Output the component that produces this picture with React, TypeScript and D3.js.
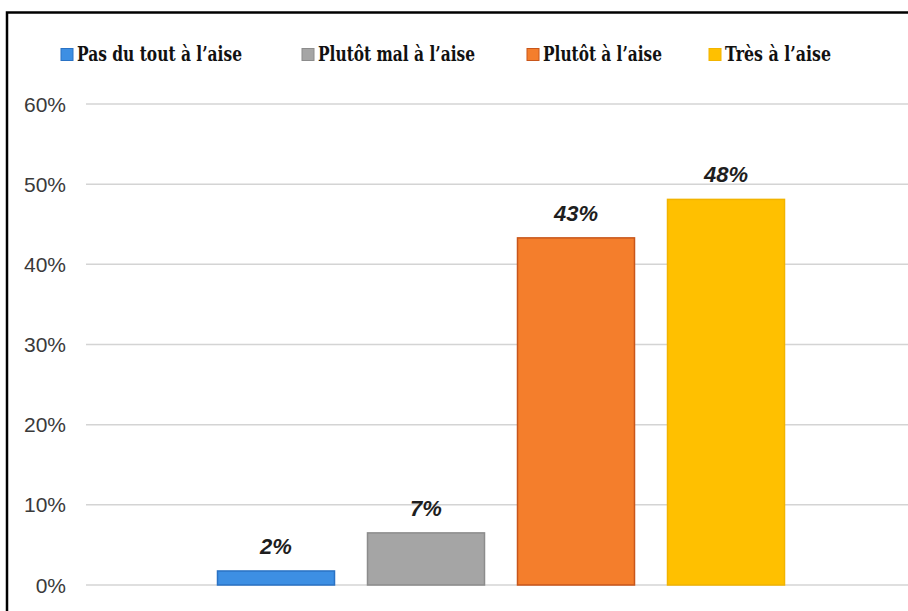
import React, { useRef, useEffect } from 'react';
import * as d3 from 'd3';

const categories = ['Pas du tout à l’aise', 'Plutôt mal à l’aise', 'Plutôt à l’aise', 'Très à l’aise'];
const values = [1.75, 6.5, 43.3, 48.1];
const valueLabels = ['2%', '7%', '43%', '48%'];
const colors = ['#3d8fe3', '#a5a5a5', '#f47e2c', '#ffc000'];
const strokes = ['#2a72c4', '#8c8c8c', '#c8561a', '#f2b400'];
const yTicks = [0, 10, 20, 30, 40, 50, 60];

// legend layout (marker x, text width)
const legendX = [61, 302, 527, 709];
const legendW = [165, 157, 119, 106];

const width = 908;
const height = 611;

const App = () => {
  const ref = useRef(null);

  useEffect(() => {
    const svg = d3.select(ref.current);
    svg.selectAll('*').remove();

    const y = d3.scaleLinear().domain([0, 60]).range([585, 104]);
    const x = d3
      .scaleBand()
      .domain(categories)
      .range([201, 801])
      .paddingInner(0.22)
      .paddingOuter(0.11);

    // frame (right and bottom edges fall outside the picture)
    svg
      .append('rect')
      .attr('x', 7)
      .attr('y', 12.5)
      .attr('width', 960)
      .attr('height', 700)
      .attr('fill', 'none')
      .attr('stroke', '#000')
      .attr('stroke-width', 2.5);

    // grid + y labels
    const grid = svg.append('g');
    grid
      .selectAll('line')
      .data(yTicks)
      .enter()
      .append('line')
      .attr('x1', 86)
      .attr('x2', width)
      .attr('y1', d => y(d))
      .attr('y2', d => y(d))
      .attr('stroke', '#d4d4d4')
      .attr('stroke-width', 1.5);
    grid
      .selectAll('text')
      .data(yTicks)
      .enter()
      .append('text')
      .attr('x', 66)
      .attr('y', d => y(d) + 7.5)
      .attr('text-anchor', 'end')
      .style('font-family', "'Liberation Sans', Arial, sans-serif")
      .style('font-size', '21px')
      .attr('fill', '#3a3a3a')
      .text(d => d + '%');

    // bars
    svg
      .append('g')
      .selectAll('rect')
      .data(values)
      .enter()
      .append('rect')
      .attr('x', (d, i) => x(categories[i]))
      .attr('y', d => y(d))
      .attr('width', x.bandwidth())
      .attr('height', d => y(0) - y(d))
      .attr('fill', (d, i) => colors[i])
      .attr('stroke', (d, i) => strokes[i])
      .attr('stroke-width', 1.5);

    // value labels
    svg
      .append('g')
      .selectAll('text')
      .data(values)
      .enter()
      .append('text')
      .attr('x', (d, i) => x(categories[i]) + x.bandwidth() / 2)
      .attr('y', d => y(d) - 17)
      .attr('text-anchor', 'middle')
      .style('font-family', "'Liberation Sans', Arial, sans-serif")
      .style('font-size', '22px')
      .style('font-weight', 'bold')
      .style('font-style', 'italic')
      .attr('fill', '#1e1e1e')
      .text((d, i) => valueLabels[i]);

    // legend
    const legend = svg
      .append('g')
      .selectAll('g')
      .data(categories)
      .enter()
      .append('g')
      .attr('transform', (d, i) => 'translate(' + legendX[i] + ',0)');
    legend
      .append('rect')
      .attr('x', 0)
      .attr('y', 48.5)
      .attr('width', 12)
      .attr('height', 12)
      .attr('fill', (d, i) => colors[i])
      .attr('stroke', (d, i) => strokes[i])
      .attr('stroke-width', 1);
    legend
      .append('text')
      .attr('x', 16)
      .attr('y', 60.5)
      .attr('textLength', (d, i) => legendW[i])
      .attr('lengthAdjust', 'spacingAndGlyphs')
      .style('font-family', "'DejaVu Serif', serif")
      .style('font-size', '19.5px')
      .style('font-weight', 'bold')
      .attr('fill', '#111')
      .text(d => d);
  }, []);

  return (
    <svg
      ref={ref}
      width={width}
      height={height}
      style={{ position: 'absolute', left: 0, top: 0, background: '#fff' }}
    />
  );
};

export default App;
